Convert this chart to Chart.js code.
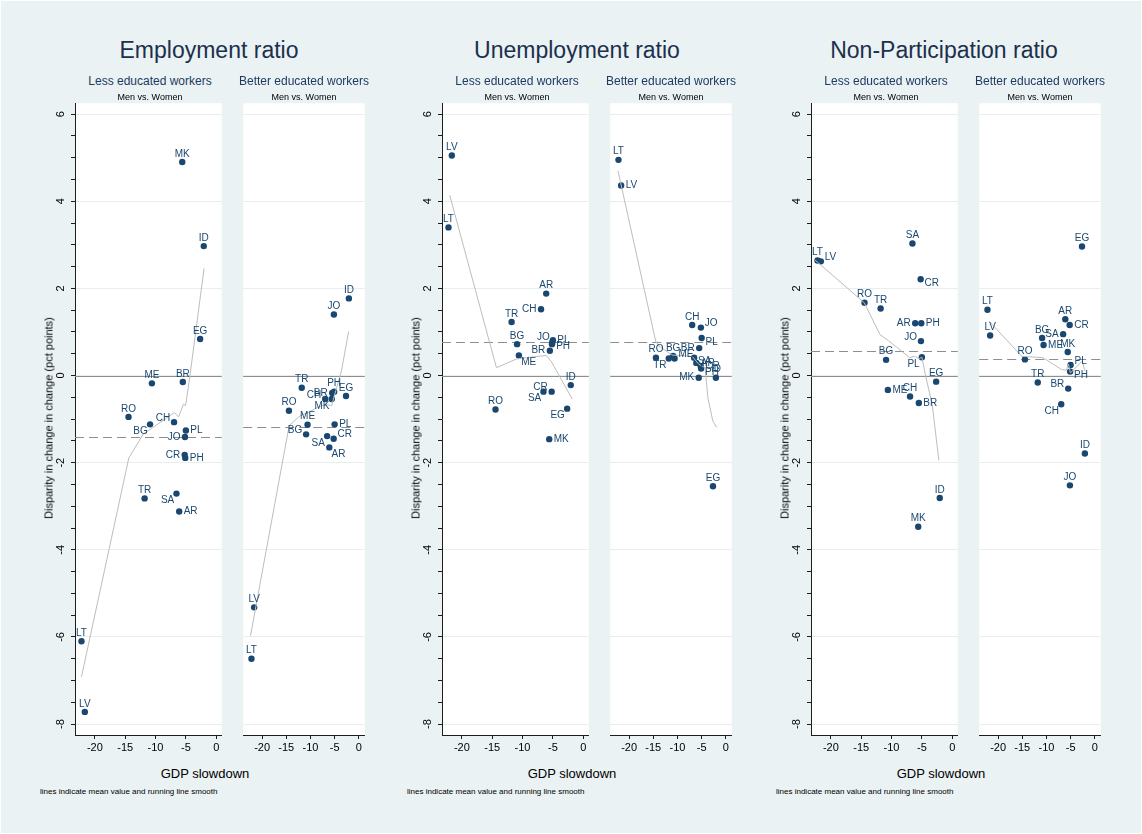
<!DOCTYPE html>
<html>
<head>
<meta charset="utf-8">
<title>Disparity in change vs GDP slowdown</title>
<script src="https://cdn.jsdelivr.net/npm/chart.js@4.4.0/dist/chart.umd.min.js"></script>
<style>
  html, body { margin: 0; padding: 0; }
  body { width: 1142px; height: 834px; background: #ffffff; position: relative; overflow: hidden;
         font-family: "Liberation Sans", Arial, sans-serif; }
  #frame { position: absolute; left: 1px; top: 1px; width: 1140px; height: 832px; background: #eaf2f3; }
  canvas { position: absolute; }
  .t { position: absolute; white-space: nowrap; transform: translate(-50%, -50%); line-height: 1; }
  .title { font-size: 23px; color: #1c2f4d; }
  .sub { font-size: 12px; color: #1e3a63; }
  .subsub { font-size: 9px; color: #000; }
  .xt { font-size: 13px; color: #000; }
  .note { position: absolute; font-size: 8px; color: #000; white-space: nowrap; }
  .yt { font-size: 11px; color: #000; transform: translate(-50%, -50%) rotate(-90deg); }
</style>
</head>
<body>
<div id="frame"></div>
<script>
// Countries and their GDP slowdown (x for every panel)
const countries   = ['AR','BG','BR','CH','CR','EG','ID','JO','LT','LV','ME','MK','PH','PL','RO','SA','TR'];
const gdpSlowdown = [-6.1,-10.9,-5.5,-6.95,-5.2,-2.65,-2.05,-5.15,-22.2,-21.65,-10.6,-5.6,-5.1,-5.0,-14.45,-6.55,-11.8];

// Disparity in change in change (pct points), men vs. women
const empLess       = [-3.12,-1.12,-0.15,-1.07,-1.82,0.84,2.97,-1.41,-6.10,-7.72,-0.18,4.90,-1.89,-1.26,-0.95,-2.71,-2.82];
const empBetter     = [-1.65,-1.35,-0.40,-0.54,-1.45,-0.47,1.77,1.40,-6.50,-5.32,-1.13,-0.54,-0.37,-1.12,-0.81,-1.39,-0.28];
const unempLess     = [1.88,0.72,0.57,1.52,-0.37,-0.76,-0.22,0.72,3.40,5.05,0.46,-1.46,0.76,0.81,-0.78,-0.37,1.23];
const unempBetter   = [0.29,0.45,0.63,1.16,0.22,-2.54,-0.05,1.10,4.95,4.36,0.39,-0.05,0.16,0.86,0.41,0.41,0.39];
const nonpartLess   = [1.20,0.36,-0.63,-0.48,2.21,-0.14,-2.81,0.79,2.64,2.62,-0.33,-3.47,1.20,0.42,1.67,3.03,1.54];
const nonpartBetter = [1.29,0.86,-0.30,-0.66,1.16,2.96,-1.79,-2.52,1.51,0.92,0.70,0.54,0.09,0.24,0.37,0.95,-0.16];

// Marker label clock positions
const empLessPos       = [3,7,12,10,9,12,12,9,12,12,12,12,3,3,12,7,12];
const empBetterPos     = [5,10,9,10,2,12,12,12,12,12,12,7,12,3,12,7,12];
const unempLessPos     = [12,12,9,9,10,7,12,11,12,12,5,3,4,3,12,7,12];
const unempBetterPos   = [3,12,9,12,3,12,12,2,12,3,2,9,4,4,12,4,7];
const nonpartLessPos   = [9,12,3,12,4,12,12,10,12,2,3,12,3,7,12,12,12];
const nonpartBetterPos = [12,12,10,7,3,12,12,12,12,12,3,12,4,2,12,9,12];

// Mean value of each panel (dashed line)
const meanLines = [-1.40, -1.19, 0.77, 0.77, 0.57, 0.37];

// Running line smooth vertices [x, y]
const smoothEmpLess       = [[-22.2,-6.91],[-14.4,-1.89],[-12.0,-1.34],[-10.5,-1.20],[-6.9,-0.85],[-6.2,-0.95],[-5.4,-0.66],[-5.05,-0.69],[-4.45,-0.13],[-2.0,2.46]];
const smoothEmpBetter     = [[-22.4,-5.97],[-14.4,-1.15],[-12.1,-0.92],[-10.5,-0.85],[-8.5,-0.73],[-6.9,-0.66],[-5.6,-0.69],[-5.25,-0.54],[-3.6,0.10],[-2.1,1.01]];
const smoothUnempLess     = [[-22.0,4.14],[-14.3,0.18],[-11.0,0.38],[-9.35,0.41],[-6.1,0.46],[-5.3,0.33],[-1.8,-0.54]];
const smoothUnempBetter   = [[-22.3,4.70],[-14.5,0.79],[-13.8,0.67],[-11.1,0.47],[-6.95,0.44],[-5.6,0.26],[-4.3,0.18],[-3.7,-0.51],[-2.7,-1.04],[-1.9,-1.19]];
const smoothNonpartLess   = [[-22.6,2.65],[-14.5,1.67],[-11.9,0.94],[-10.5,0.80],[-7.0,0.41],[-6.2,0.44],[-5.4,0.39],[-5.0,0.42],[-4.35,-0.03],[-3.3,-0.66],[-2.2,-1.95]];
const smoothNonpartBetter = [[-21.9,1.25],[-15.1,0.44],[-10.7,0.41],[-6.9,0.14],[-5.9,0.12],[-5.45,0.26],[-5.05,0.06],[-2.6,0.33],[-2.0,0.10]];

// Axis ticks
const xTicks = [-20, -15, -10, -5, 0];
const yLabelTicks = [-8, -6, -4, -2, 0, 2, 4, 6];

const groupTitles = ['Employment ratio', 'Unemployment ratio', 'Non-Participation ratio'];
const panelTitles = ['Less educated workers', 'Better educated workers'];
const panelSubtitle = 'Men vs. Women';
const xTitle = 'GDP slowdown';
const yTitle = 'Disparity in change in change (pct points)';
const noteText = 'lines indicate mean value and running line smooth';

const FONT = '"Liberation Sans", Arial, sans-serif';
const NAVY = '#1a476f';
const AXIS = '#1e1e1e';

// Layout of the six plot regions
const PLOT_TOP = 100, PLOT_BOTTOM = 735, Y_AXIS_W = 45, X_AXIS_H = 25;
const groupLeft = [75, 442, 811];
const panelOffset = [0, 165];
const panelWidth = [150, 128];
const panelXRange = [[-23.27, 0.92], [-23.91, 1.24]];

const panels = [
  { values: empLess,       pos: empLessPos,       smooth: smoothEmpLess },
  { values: empBetter,     pos: empBetterPos,     smooth: smoothEmpBetter },
  { values: unempLess,     pos: unempLessPos,     smooth: smoothUnempLess },
  { values: unempBetter,   pos: unempBetterPos,   smooth: smoothUnempBetter },
  { values: nonpartLess,   pos: nonpartLessPos,   smooth: smoothNonpartLess },
  { values: nonpartBetter, pos: nonpartBetterPos, smooth: smoothNonpartBetter }
];

const yMinor = [];
for (let v = -8; v <= 6; v += 0.5) yMinor.push(v);

// white plot region
const plotBg = {
  id: 'plotBg',
  beforeDraw(chart) {
    const a = chart.chartArea, c = chart.ctx;
    c.save(); c.fillStyle = '#ffffff';
    c.fillRect(a.left, a.top, a.right - a.left, a.bottom - a.top);
    c.restore();
  }
};

// zero line and dashed mean line
const refLines = {
  id: 'refLines',
  beforeDatasetsDraw(chart, args, opts) {
    const a = chart.chartArea, c = chart.ctx, y = chart.scales.y;
    c.save();
    c.strokeStyle = '#8e8e8e';
    c.lineWidth = 1.2;
    let py = Math.round(y.getPixelForValue(0)) + 0.5;
    c.beginPath(); c.moveTo(a.left, py); c.lineTo(a.right, py); c.stroke();
    c.setLineDash([9, 5]);
    py = Math.round(y.getPixelForValue(opts.mean)) + 0.5;
    c.beginPath(); c.moveTo(a.left, py); c.lineTo(a.right, py); c.stroke();
    c.restore();
  }
};

// country labels at clock positions
const CLOCK = {};
for (let h = 1; h <= 12; h++) {
  const t = h * Math.PI / 6;
  CLOCK[h] = [Math.sin(t), -Math.cos(t)];
}
const markerLabels = {
  id: 'markerLabels',
  afterDatasetsDraw(chart, args, opts) {
    const meta = chart.getDatasetMeta(1), c = chart.ctx;
    c.save();
    c.font = '10px ' + FONT;
    c.fillStyle = NAVY;
    c.textBaseline = 'middle';
    const gap = 4.5, capH = 7.2;
    meta.data.forEach((pt, i) => {
      const [ux, uy] = CLOCK[opts.pos[i]];
      const ax = pt.x + ux * gap;
      const ay = pt.y + uy * (gap + capH / 2);
      c.textAlign = ux > 0.1 ? 'left' : (ux < -0.1 ? 'right' : 'center');
      c.fillText(opts.names[i], ax, ay);
    });
    c.restore();
  }
};

// rotated y tick labels
const yTickLabels = {
  id: 'yTickLabels',
  afterDraw(chart, args, opts) {
    if (!opts.show) return;
    const c = chart.ctx, y = chart.scales.y, a = chart.chartArea;
    c.save();
    c.font = '11px ' + FONT;
    c.fillStyle = '#000';
    c.textAlign = 'center';
    c.textBaseline = 'middle';
    yLabelTicks.forEach(v => {
      c.save();
      c.translate(a.left - 14, y.getPixelForValue(v));
      c.rotate(-Math.PI / 2);
      c.fillText(String(v), 0, 0);
      c.restore();
    });
    c.restore();
  }
};

function addText(cls, text, x, y) {
  const d = document.createElement('div');
  d.className = 't ' + cls;
  d.textContent = text;
  d.style.left = x + 'px';
  d.style.top = y + 'px';
  document.body.appendChild(d);
}

panels.forEach((p, k) => {
  const g = Math.floor(k / 2), side = k % 2;
  const withAxis = side === 0;
  const plotLeft = groupLeft[g] + panelOffset[side];
  const w = panelWidth[side];
  const cv = document.createElement('canvas');
  const cw = w + (withAxis ? Y_AXIS_W : 0);
  const ch = PLOT_BOTTOM - PLOT_TOP + X_AXIS_H;
  cv.width = cw; cv.height = ch;
  cv.style.left = (plotLeft - (withAxis ? Y_AXIS_W : 0)) + 'px';
  cv.style.top = PLOT_TOP + 'px';
  cv.style.width = cw + 'px'; cv.style.height = ch + 'px';
  document.body.appendChild(cv);

  new Chart(cv.getContext('2d'), {
    type: 'scatter',
    data: {
      datasets: [
        {
          type: 'line',
          data: p.smooth.map(([x, y]) => ({ x, y })),
          borderColor: '#bdbdbd', borderWidth: 1, pointRadius: 0, fill: false, tension: 0
        },
        {
          data: countries.map((c, i) => ({ x: gdpSlowdown[i], y: p.values[i] })),
          pointRadius: 3.2, pointHoverRadius: 3.2, backgroundColor: NAVY, borderWidth: 0
        }
      ]
    },
    options: {
      responsive: false,
      animation: false,
      devicePixelRatio: 1,
      layout: { padding: 0 },
      events: [],
      plugins: {
        legend: { display: false },
        tooltip: { enabled: false },
        refLines: { mean: meanLines[k] },
        markerLabels: { pos: p.pos, names: countries },
        yTickLabels: { show: withAxis }
      },
      scales: {
        x: {
          type: 'linear',
          min: panelXRange[side][0], max: panelXRange[side][1],
          afterBuildTicks: s => { s.ticks = xTicks.map(v => ({ value: v })); },
          afterFit: s => { s.height = X_AXIS_H; },
          grid: { drawOnChartArea: false, drawTicks: true, tickLength: 4, tickColor: AXIS, tickWidth: 1 },
          border: { display: true, color: AXIS, width: 1 },
          ticks: { font: { family: FONT, size: 11 }, color: '#000', padding: 2, maxRotation: 0, minRotation: 0, autoSkip: false }
        },
        y: {
          type: 'linear',
          min: -8.25, max: 6.25,
          afterBuildTicks: s => { s.ticks = yMinor.map(v => ({ value: v })); },
          afterFit: s => { s.width = withAxis ? Y_AXIS_W : 0; },
          grid: {
            color: ctx => (ctx.tick && Math.abs(ctx.tick.value % 2) < 1e-9) ? '#e7eef0' : 'rgba(0,0,0,0)',
            lineWidth: 1,
            drawTicks: withAxis, tickLength: 4, tickColor: AXIS
          },
          border: { display: withAxis, color: AXIS, width: 1 },
          ticks: { display: false }
        }
      }
    },
    plugins: [plotBg, refLines, markerLabels, yTickLabels]
  });
});

// text around the panels
const groupTitleX = [209, 577, 944];
groupTitles.forEach((t, g) => {
  addText('title', t, groupTitleX[g], 50);
  panelTitles.forEach((pt, side) => {
    const cx = groupLeft[g] + panelOffset[side] + panelWidth[side] / 2;
    addText('sub', pt, cx, 81);
    addText('subsub', panelSubtitle, cx, 97);
  });
  addText('xt', xTitle, groupLeft[g] + 130, 773);
  addText('yt', yTitle, groupLeft[g] - 26, 418);
  const n = document.createElement('div');
  n.className = 'note';
  n.textContent = noteText;
  n.style.left = (groupLeft[g] - 35) + 'px';
  n.style.top = '787px';
  document.body.appendChild(n);
});
</script>
</body>
</html>
